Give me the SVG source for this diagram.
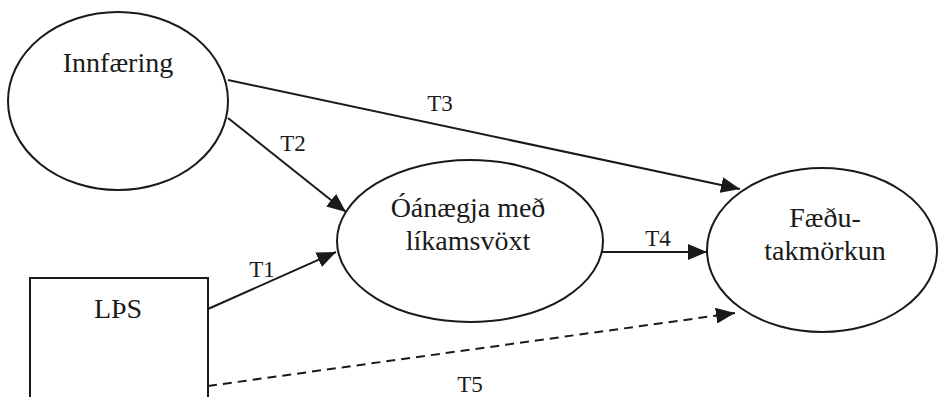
<svg xmlns="http://www.w3.org/2000/svg" width="938" height="397" viewBox="0 0 938 397">
  <style>
    .shape { fill: #ffffff; stroke: #1a1a1a; stroke-width: 2; }
    .edge { fill: none; stroke: #1a1a1a; stroke-width: 2; }
    .dashed { stroke-dasharray: 9 6; }
    .node-text { font-family: "Liberation Serif", "Times New Roman", serif; font-size: 28px; fill: #1a1a1a; text-anchor: middle; }
    .edge-text { font-family: "Liberation Serif", "Times New Roman", serif; font-size: 23px; fill: #1a1a1a; text-anchor: middle; }
  </style>
  <defs>
    <marker id="arrow" markerUnits="userSpaceOnUse" markerWidth="20" markerHeight="16" refX="19" refY="8" orient="auto">
      <path d="M0,0 L19,8 L0,16 z" fill="#1a1a1a"/>
    </marker>
  </defs>
  <rect width="938" height="397" fill="#ffffff"/>

  <g id="connectors">
    <line class="edge" x1="228" y1="80" x2="740" y2="189" marker-end="url(#arrow)"/>
    <text class="edge-text" x="440" y="111">T3</text>
    <line class="edge" x1="228" y1="118" x2="346" y2="212" marker-end="url(#arrow)"/>
    <text class="edge-text" x="293" y="151">T2</text>
    <line class="edge" x1="208" y1="309" x2="336" y2="252" marker-end="url(#arrow)"/>
    <text class="edge-text" x="262" y="277">T1</text>
    <line class="edge" x1="602" y1="252" x2="707" y2="252" marker-end="url(#arrow)"/>
    <text class="edge-text" x="658" y="246">T4</text>
    <line class="edge dashed" x1="208" y1="386" x2="735" y2="313" marker-end="url(#arrow)"/>
    <text class="edge-text" x="470" y="392">T5</text>
  </g>

  <g id="innfaering">
    <ellipse class="shape" cx="118" cy="101" rx="110" ry="89"/>
    <text class="node-text" x="118" y="72">Innfæring</text>
  </g>

  <g id="lps">
    <rect class="shape" x="30" y="278" width="178" height="130"/>
    <text class="node-text" x="118" y="318">LÞS</text>
  </g>

  <g id="oanaegja">
    <ellipse class="shape" cx="470" cy="241" rx="133" ry="81"/>
    <text class="node-text" x="468" y="217">Óánægja með</text>
    <text class="node-text" x="468" y="250">líkamsvöxt</text>
  </g>

  <g id="faedutakmorkun">
    <ellipse class="shape" cx="822" cy="250" rx="115" ry="82"/>
    <text class="node-text" x="825" y="227">Fæðu-</text>
    <text class="node-text" x="825" y="260">takmörkun</text>
  </g>
</svg>
